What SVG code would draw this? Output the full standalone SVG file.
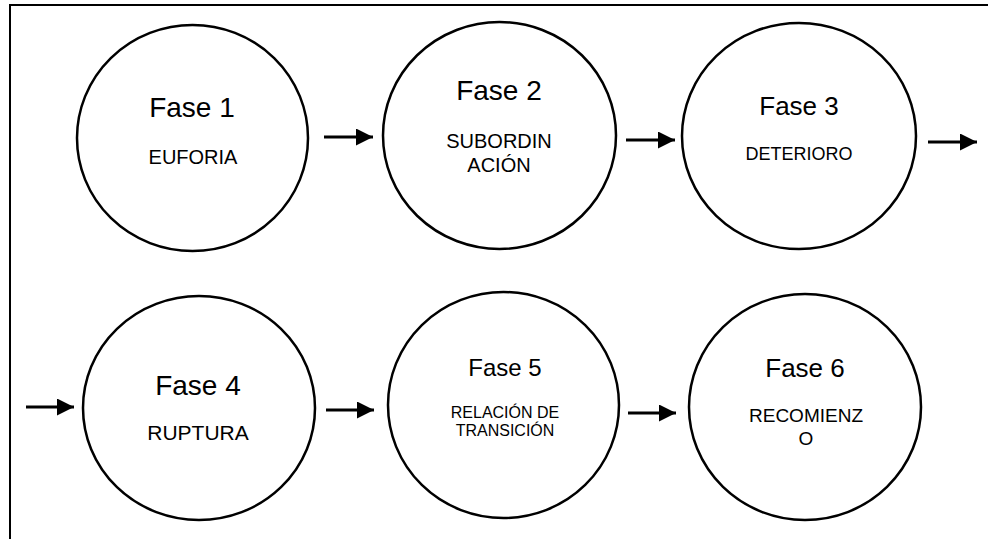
<svg xmlns="http://www.w3.org/2000/svg" width="988" height="539" viewBox="0 0 988 539">
<defs>
<style>
.c{fill:#fff;stroke:#000;stroke-width:2.5}
.t{font-family:"Liberation Sans",Arial,sans-serif;fill:#000;text-anchor:middle}
.a{stroke:#000;stroke-width:3;fill:none}
.f{stroke:#000;stroke-width:2;fill:none}
</style>
<marker id="ah" markerUnits="userSpaceOnUse" markerWidth="18" markerHeight="17" refX="17" refY="8.5" orient="auto">
<path d="M0,0 L17,8.5 L0,17 Z" fill="#000"/>
</marker>
</defs>
<rect width="988" height="539" fill="#fff"/>
<g id="frame">
<path class="f" d="M10,539 L10,5 L988,5"/>
</g>
<g id="n1">
<ellipse class="c" cx="192.5" cy="138" rx="115.5" ry="113"/>
<text class="t" x="192" y="117" font-size="28">Fase 1</text>
<text class="t" x="193" y="164" font-size="20">EUFORIA</text>
</g>
<g id="n2">
<ellipse class="c" cx="499.5" cy="135.5" rx="116.5" ry="113.5"/>
<text class="t" x="499" y="100" font-size="28">Fase 2</text>
<text class="t" x="499" y="148" font-size="20">SUBORDIN</text>
<text class="t" x="499" y="172" font-size="20">ACIÓN</text>
</g>
<g id="n3">
<ellipse class="c" cx="799" cy="136" rx="117" ry="113"/>
<text class="t" x="799" y="115" font-size="26">Fase 3</text>
<text class="t" x="799" y="160" font-size="18">DETERIORO</text>
</g>
<g id="n4">
<ellipse class="c" cx="199" cy="408" rx="116" ry="112"/>
<text class="t" x="198" y="395" font-size="28">Fase 4</text>
<text class="t" x="198" y="440" font-size="21">RUPTURA</text>
</g>
<g id="n5">
<ellipse class="c" cx="503.5" cy="405" rx="115.5" ry="113"/>
<text class="t" x="505" y="376" font-size="24">Fase 5</text>
<text class="t" x="505" y="418" font-size="16">RELACIÓN DE</text>
<text class="t" x="505" y="436" font-size="16">TRANSICIÓN</text>
</g>
<g id="n6">
<ellipse class="c" cx="805" cy="407" rx="116" ry="113"/>
<text class="t" x="805" y="377" font-size="26">Fase 6</text>
<text class="t" x="806" y="422" font-size="19">RECOMIENZ</text>
<text class="t" x="806" y="445" font-size="19">O</text>
</g>
<g id="connectors">
<line class="a" x1="324" y1="137" x2="373" y2="137" marker-end="url(#ah)"/>
<line class="a" x1="626" y1="140" x2="675" y2="140" marker-end="url(#ah)"/>
<line class="a" x1="928" y1="142" x2="977" y2="142" marker-end="url(#ah)"/>
<line class="a" x1="26" y1="407" x2="74" y2="407" marker-end="url(#ah)"/>
<line class="a" x1="326" y1="410" x2="374" y2="410" marker-end="url(#ah)"/>
<line class="a" x1="628" y1="413" x2="676" y2="413" marker-end="url(#ah)"/>
</g>
</svg>
